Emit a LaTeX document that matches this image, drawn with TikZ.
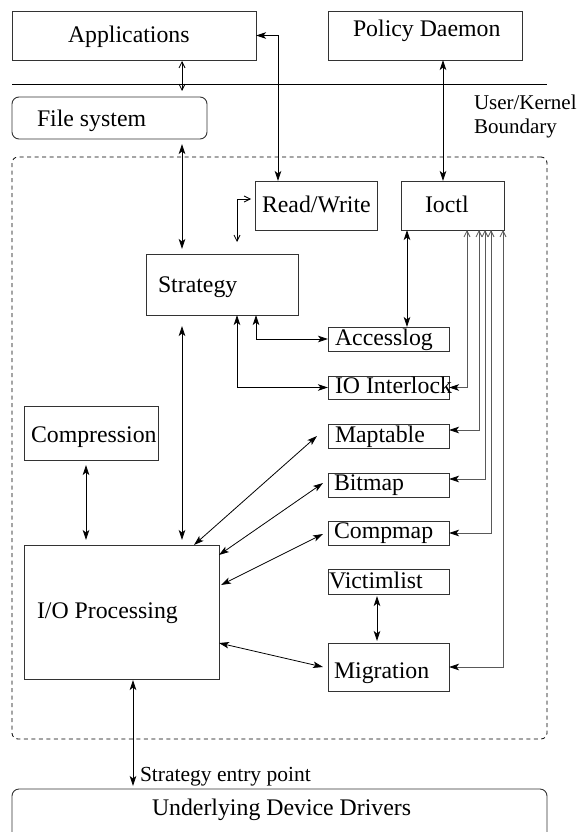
\documentclass[tikz,border=0pt]{standalone}
\usepackage{fontspec}
\setmainfont{Liberation Serif}
\usetikzlibrary{arrows.meta,calc}
\begin{document}
\begin{tikzpicture}[x=1pt,y=-1pt,
  every node/.style={inner sep=0pt, outer sep=0pt},
  ft/.tip={Stealth[length=10pt,width=6.5pt,inset=2.5pt]},
  fb/.tip={Stealth[length=10pt,width=6.5pt,inset=2.5pt,color=black]},
  ot/.tip={Straight Barb[length=6pt,width=6pt]},
  box/.style={draw=black!80, line width=0.9pt, anchor=north west},
  rbox/.style={box, rounded corners=7pt},
  region/.style={box, draw=black, line width=0.8pt, dash pattern=on 4pt off 3.5pt, rounded corners=6pt},
  lbl/.style={anchor=base west, font=\fontsize{23.8}{28}\selectfont},
  note/.style={anchor=base west, font=\fontsize{21.5}{25}\selectfont},
  link/.style={line width=0.8pt, ft-ft},
  olink/.style={line width=0.8pt, ot-ot},
  ctl/.style={line width=0.8pt, draw=black!65, ot-fb},
]
\useasboundingbox (0,0) rectangle (582,832);

% kernel region and user/kernel boundary
\node[region, minimum width=535pt, minimum height=582pt] (kern) at (12,157) {};
\coordinate (ukl) at (12,84);
\coordinate (ukr) at (547,84);
\draw[line width=0.8pt] (ukl) -- (ukr);
\node[note, font=\fontsize{21}{25}\selectfont] (uk1) at (474,110) {User/Kernel};
\node[note, font=\fontsize{21}{25}\selectfont] (uk2) at (474,133) {Boundary};

% boxes
\node[box, minimum width=244pt, minimum height=49pt] (app) at (12,11) {};
\node[box, minimum width=194pt, minimum height=49pt] (pol) at (328,11) {};
\node[rbox, minimum width=195pt, minimum height=42pt] (fs) at (12,97) {};
\node[box, minimum width=122pt, minimum height=49pt] (rw) at (255,181) {};
\node[box, minimum width=103pt, minimum height=49pt] (ioc) at (401,181) {};
\node[box, minimum width=152pt, minimum height=61pt] (str) at (146,254) {};
\node[box, minimum width=121pt, minimum height=24pt] (acc) at (328,327) {};
\node[box, minimum width=121pt, minimum height=23pt] (iol) at (328,376) {};
\node[box, minimum width=121pt, minimum height=24pt] (map) at (328,424) {};
\node[box, minimum width=121pt, minimum height=24pt] (bit) at (328,473) {};
\node[box, minimum width=121pt, minimum height=24pt] (cmp) at (328,521) {};
\node[box, minimum width=121pt, minimum height=25pt] (vic) at (328,569) {};
\node[box, minimum width=121pt, minimum height=48pt] (mig) at (328,643) {};
\node[box, minimum width=134pt, minimum height=54pt] (cps) at (24,406) {};
\node[box, minimum width=195pt, minimum height=134pt] (iop) at (24,545) {};
\node[rbox, minimum width=535pt, minimum height=60pt] (drv) at (12,789) {};

% box texts
\node[lbl] (app-t) at (68,42.5) {Applications};
\node[lbl] (pol-t) at (353,36.5) {Policy Daemon};
\node[lbl] (fs-t) at (37,127) {File system};
\node[lbl] (rw-t) at (262,212) {Read/Write};
\node[lbl] (ioc-t) at (425,212) {Ioctl};
\node[lbl] (str-t) at (158,292) {Strategy};
\node[lbl] (acc-t) at (335,345) {Accesslog};
\node[lbl] (iol-t) at (335,393) {IO Interlock};
\node[lbl] (map-t) at (335,442) {Maptable};
\node[lbl] (bit-t) at (334,490) {Bitmap};
\node[lbl] (cmp-t) at (334,538) {Compmap};
\node[lbl] (vic-t) at (329,588) {Victimlist};
\node[lbl] (mig-t) at (334,678) {Migration};
\node[lbl] (cps-t) at (31,442) {Compression};
\node[lbl] (iop-t) at (37,618) {I/O Processing};
\node[lbl] (drv-t) at (152,815) {Underlying Device Drivers};
\node[note] (sep-t) at (140,781) {Strategy entry point};

% user-level connections
\draw[olink] ($(app.south west)+(170,1)$) -- ($(fs.north west)+(170,-6)$);
\draw[link] (app.east) -| ($(rw.north west)+(23,0)$);
\draw[link] ($(pol.south west)+(115,0)$) -- ($(ioc.north west)+(42,0)$);

% file system / strategy path
\draw[link] ($(fs.south west)+(170,5)$) -- ($(str.north west)+(36,-5)$);
\draw[olink] ($(rw.north west)+(-4,18)$) -- ($(rw.north west)+(-18,18)$) -- ($(rw.north west)+(-18,61)$);
\draw[link] ($(str.south west)+(110,0)$) |- (acc.west);
\draw[link] ($(str.south west)+(91,0)$) |- (iol.west);
\draw[link] ($(str.south west)+(36,11)$) -- ($(iop.north west)+(158,-5)$);
\draw[link] ($(cps.south west)+(62,5)$) -- ($(iop.north west)+(62,-5)$);

% ioctl fan-out
\draw[link] ($(ioc.south west)+(6,0)$) -- ($(acc.north west)+(79,0)$);
\draw[ctl] ($(ioc.south west)+(66,0)$) |- (iol.east);
\draw[ctl] ($(ioc.south west)+(78,0)$) |- ($(map.north east)+(0,6)$);
\draw[ctl] ($(ioc.south west)+(84,0)$) |- ($(bit.north east)+(0,6)$);
\draw[ctl] ($(ioc.south west)+(90,0)$) |- (cmp.east);
\draw[ctl] ($(ioc.south west)+(102,0)$) |- (mig.east);

% I/O processing links
\draw[link] ($(iop.north west)+(170,0)$) -- ($(map.west)+(-11,0)$);
\draw[link] ($(iop.north east)+(0,10)$) -- ($(bit.west)+(-5,-2)$);
\draw[link] ($(iop.north east)+(2,40)$) -- ($(cmp.west)+(-5,1)$);
\draw[link] ($(iop.north east)+(0,98)$) -- ($(mig.west)+(-5,0)$);
\draw[link] ($(vic.south west)+(49,2)$) -- ($(mig.north west)+(49,-2)$);
\draw[link] ($(iop.south west)+(109,1)$) -- ($(drv.north west)+(121,-3)$);
\end{tikzpicture}
\end{document}
